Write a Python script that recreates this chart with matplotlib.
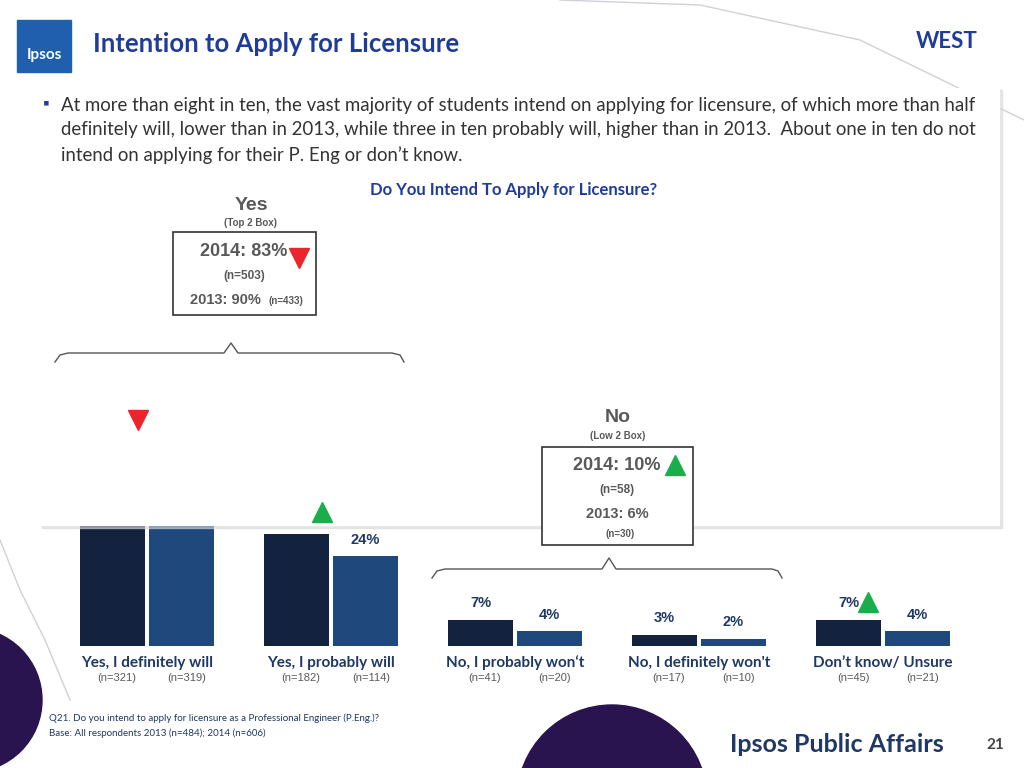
import matplotlib.pyplot as plt
from matplotlib.patches import Rectangle, Circle, Wedge

plt.rcParams['font.family'] = ['Lato', 'DejaVu Sans']

# --- Data ---
categories = ["Yes, I definitely will", "Yes, I probably will", "No, I probably won\u2018t",
              "No, I definitely won't", "Don\u2019t know/ Unsure"]
vals_2014 = [53, 30, 7, 3, 7]
vals_2013 = [64, 24, 4, 2, 4]
n_2014 = [321, 182, 41, 17, 45]
n_2013 = [319, 114, 20, 10, 21]

DARK = "#13233f"
BLUE = "#1f497d"
LABEL = "#1f3864"
TITLE_BLUE = "#1f3c99"
GRAY = "#595959"

fig = plt.figure(figsize=(10.24, 7.68), dpi=100)

# --- Bars (pixel layout: baseline y=646, 3.75 px per %) ---
ax = fig.add_axes([55 / 1024, (768 - 646) / 768, 920 / 1024, 357 / 768], zorder=1)
ax.patch.set_alpha(0)
x = range(len(categories))
w = 0.348
off = 0.1875
ax.bar([i - off for i in x], vals_2014, width=w, color=DARK)
ax.bar([i + off for i in x], vals_2013, width=w, color=BLUE)
for i in x:
    ax.text(i - off, vals_2014[i] + 2.5, f"{vals_2014[i]}%", ha="center", va="bottom",
            fontsize=10.5, fontweight="bold", color=LABEL, family="Liberation Sans")
    ax.text(i + off, vals_2013[i] + 2.5, f"{vals_2013[i]}%", ha="center", va="bottom",
            fontsize=10.5, fontweight="bold", color=LABEL, family="Liberation Sans")
ax.set_xlim(-0.5, 4.5)
ax.set_ylim(0, 95.2)
ax.axis("off")

# --- Overlay in pixel coords ---
ov = fig.add_axes([0, 0, 1, 1], zorder=5)
ov.set_xlim(0, 1024)
ov.set_ylim(768, 0)
ov.axis("off")
ov.patch.set_alpha(0)

bg = fig.add_axes([0, 0, 1, 1], zorder=0)
bg.set_xlim(0, 1024)
bg.set_ylim(768, 0)
bg.axis("off")
bg.add_patch(Circle((-30, 700), 72, color="#2a1450"))
bg.add_patch(Wedge((612, 800), 95, 180, 360, color="#2a1450"))
bg.plot([560, 700, 860, 1024], [0, 5, 40, 120], color="#d0d0d8", lw=1)
bg.plot([0, 20, 45, 70], [540, 590, 640, 700], color="#d0d0d8", lw=1)

# labels under bars
for i, c in enumerate(categories):
    cx = 147 + 184 * i
    ov.text(cx, 663, c, ha="center", va="center", fontsize=11, fontweight="bold", color=LABEL)
    ov.text(cx - 30, 678, f"(n={n_2014[i]})", ha="center", va="center", fontsize=8,
            color=GRAY, family="Liberation Sans")
    ov.text(cx + 40, 678, f"(n={n_2013[i]})", ha="center", va="center", fontsize=8,
            color=GRAY, family="Liberation Sans")
ov.plot(868, 602, marker="^", ms=15, color="#1aad4b", ls="none")

# white panel with soft shadow
ov.add_patch(Rectangle((42, 90), 960, 438, color="#d8d8d8", alpha=0.6))
ov.add_patch(Rectangle((40, 88), 960, 438, facecolor="white", edgecolor="none"))

ov.text(43, 103, "\u25aa", fontsize=12, color=TITLE_BLUE, va="center")
lines = ["At more than eight in ten, the vast majority of students intend on applying for licensure, of which more than half",
         "definitely will, lower than in 2013, while three in ten probably will, higher than in 2013.  About one in ten do not",
         "intend on applying for their P. Eng or don\u2019t know."]
for k, t in enumerate(lines):
    ov.text(61, 105 + 25 * k, t, fontsize=13.4, color="#333333", va="center")
ov.text(514, 190, "Do You Intend To Apply for Licensure?", ha="center", va="center",
        fontsize=12, fontweight="bold", color=TITLE_BLUE)

# braces
ov.plot([55, 60, 68, 224, 231, 238, 392, 400, 404], [362, 355, 353, 353, 343, 353, 353, 355, 362],
        color="#555555", lw=1)
ov.plot([432, 437, 445, 602, 609, 616, 772, 778, 782], [578, 571, 569, 569, 558, 569, 569, 571, 578],
        color="#555555", lw=1)

ov.plot(138, 420, marker="v", ms=15, color="#e8262b", ls="none")
ov.plot(322, 512, marker="^", ms=15, color="#1aad4b", ls="none")

# callout boxes
ov.add_patch(Rectangle((173, 232), 143, 83, facecolor="white", edgecolor="#333333", lw=1.2))
fa = dict(family="Liberation Sans", fontweight="bold", color=GRAY, ha="center", va="center")
ov.text(251, 205, "Yes", fontsize=14, **fa)
ov.text(251, 223, "(Top 2 Box)", fontsize=7, **fa)
ov.text(244, 251, "2014: 83%", fontsize=13, **fa)
ov.plot(299, 258, marker="v", ms=15, color="#e8262b", ls="none")
ov.text(244, 276, "(n=503)", fontsize=8.5, **fa)
ov.text(225, 300, "2013: 90%", fontsize=10.5, **fa)
ov.text(286, 301, "(n=433)", fontsize=7, **fa)

ov.add_patch(Rectangle((542, 447), 151, 98, facecolor="white", edgecolor="#333333", lw=1.2))
ov.text(618, 418, "No", fontsize=14, **fa)
ov.text(618, 436, "(Low 2 Box)", fontsize=7, **fa)
ov.text(617, 466, "2014: 10%", fontsize=13, **fa)
ov.plot(675, 465, marker="^", ms=15, color="#1aad4b", ls="none")
ov.text(617, 490, "(n=58)", fontsize=8.5, **fa)
ov.text(617, 514, "2013: 6%", fontsize=10.5, **fa)
ov.text(620, 534, "(n=30)", fontsize=7, **fa)

# header
ov.add_patch(Rectangle((17, 20), 54, 52, color="#1f5fae"))
ov.text(44, 55, "Ipsos", ha="center", va="center", fontsize=11, fontweight="bold", color="white")
ov.text(93, 44, "Intention to Apply for Licensure", fontsize=18.5, fontweight="bold",
        color=TITLE_BLUE, va="center")
ov.text(978, 42, "WEST", fontsize=16, fontweight="bold", color=TITLE_BLUE, va="center", ha="right")

# footer
ov.text(49, 718, "Q21. Do you intend to apply for licensure as a Professional Engineer (P.Eng.)?",
        fontsize=7, color=LABEL, va="center")
ov.text(49, 733, "Base: All respondents 2013 (n=484); 2014 (n=606)", fontsize=7, color=LABEL, va="center")
ov.text(730, 745, "Ipsos Public Affairs", fontsize=18, fontweight="bold", color=LABEL, va="center")
ov.text(1004, 745, "21", fontsize=11, fontweight="bold", color="#444444", va="center", ha="right")

fig.savefig("out.png", dpi=100)
